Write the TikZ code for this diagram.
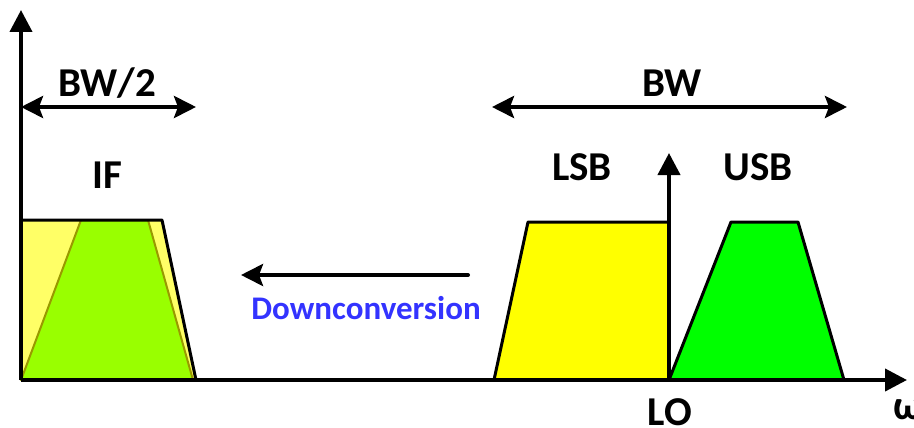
\documentclass[tikz,border=0pt]{standalone}
\usepackage{fontspec}
\setmainfont{Carlito}
\usetikzlibrary{arrows.meta}
\definecolor{ifyellow}{HTML}{FFFF66}
\definecolor{iflime}{HTML}{99FF00}
\definecolor{ifolive}{HTML}{999900}
\definecolor{lsbyellow}{HTML}{FFFF00}
\definecolor{usbgreen}{HTML}{00FF00}
\definecolor{dcblue}{HTML}{3333FF}
\tikzset{
  axis/.style={line width=4pt, -{Triangle[length=22pt,width=22pt]}},
  span/.style={line width=4pt, {Stealth[length=22pt,width=22pt,inset=4pt]}-{Stealth[length=22pt,width=22pt,inset=4pt]}},
  band/.style={draw=black, line width=3pt, line join=round},
  lbl/.style={font=\bfseries\fontsize{41}{45}\selectfont, inner sep=0pt},
}
\begin{document}
\begin{tikzpicture}[x=1pt,y=-1pt]
\useasboundingbox (0,0) rectangle (914,428);

% coordinates of axes and arrows
\coordinate (O) at (21,380);
\coordinate (ytop) at (21,10);
\coordinate (xend) at (907,380);
\coordinate (LO) at (669,380);
\coordinate (LOtop) at (669,153);
\coordinate (hwL) at (21,107);
\coordinate (hwR) at (196,107);
\coordinate (bwL) at (492,107);
\coordinate (bwR) at (847,107);
\coordinate (dcR) at (468,275);
\coordinate (dcL) at (241,275);

% IF band: pale yellow trapezoid with the lime band over it
\fill[ifyellow] (21,380) -- (21,220) -- (162,220) -- (196,380) -- cycle;
\filldraw[fill=iflime, draw=ifolive, line width=2pt, line join=round]
  (21,380) -- (81,220) -- (148,220) -- (193,380) -- cycle;
\draw[line width=3pt, line join=round] (21,220) -- (162,220) -- (196,380);

% LSB and USB bands around LO
\draw[band, fill=lsbyellow] (494,380) -- (528,222) -- (669,222) -- (669,380) -- cycle;
\draw[band, fill=usbgreen] (669,380) -- (731,222) -- (798,222) -- (844,380) -- cycle;

% axes
\draw[axis] (O) -- (ytop);
\draw[axis] (O) -- (xend);
\draw[axis] (LO) -- (LOtop);

% bandwidth spans
\draw[span] (hwL) -- (hwR);
\draw[span] (bwL) -- (bwR);

% downconversion arrow
\draw[line width=4pt, line cap=round, -{Stealth[length=22pt,width=22pt,inset=4pt]}] (dcR) -- (dcL);

% labels
\node[lbl] (bw2) at (107,83) {BW/2};
\node[lbl] (if) at (107,175) {IF};
\node[lbl] (bw) at (672,83) {BW};
\node[lbl] (lsb) at (582,167) {LSB};
\node[lbl] (usb) at (758,167) {USB};
\node[lbl] (lo) at (670,412) {LO};
\node[lbl, anchor=west] (om) at (893,410) {ω};
\node[font=\bfseries\fontsize{33}{37}\selectfont, text=dcblue, inner sep=0pt] (dc) at (366,308) {Downconversion};
\end{tikzpicture}
\end{document}
